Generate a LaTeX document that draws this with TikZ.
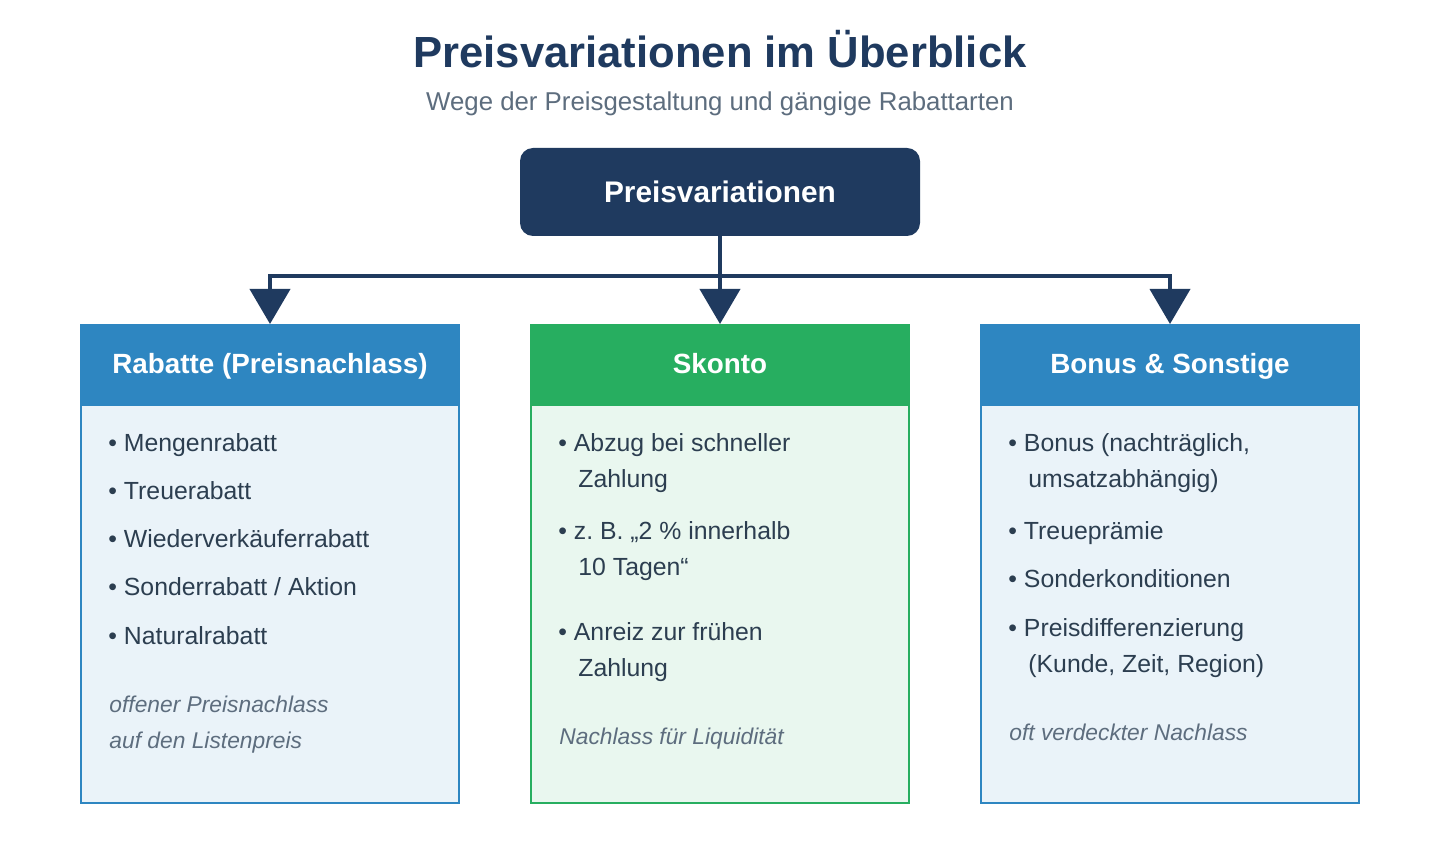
\documentclass[tikz,border=0pt]{standalone}
\usepackage{fontspec}
\setmainfont{Liberation Sans}
\usepackage{xcolor}
\usetikzlibrary{arrows.meta,positioning}
\definecolor{navy}{HTML}{1F3A5F}
\definecolor{slate}{HTML}{5D6D7E}
\definecolor{ink}{HTML}{2C3E50}
\definecolor{ocean}{HTML}{2E86C1}
\definecolor{meadow}{HTML}{27AE60}
\tikzset{
  rootbox/.style={
    rectangle, rounded corners=6.5pt, fill=navy, text=white,
    minimum width=200pt, minimum height=44pt, outer sep=0pt,
    text height=10.7pt, text depth=0pt,
    font=\fontsize{14.9}{18}\selectfont\bfseries
  },
  headbox/.style={
    rectangle, fill=#1, text=white,
    minimum width=190pt, minimum height=40pt,
    inner sep=0pt, outer sep=0pt,
    text height=10pt, text depth=0pt,
    font=\fontsize{13.9}{17}\selectfont\bfseries
  },
  headbox/.default=ocean,
  bodybox/.style={
    rectangle, draw=#1, fill=#1!10, line width=1pt,
    minimum width=189pt, minimum height=199pt,
    inner sep=0pt, outer sep=0pt
  },
  bodybox/.default=ocean,
  itemtext/.style={
    anchor=base west, inner sep=0pt, text=ink,
    font=\fontsize{12.4}{15}\selectfont
  },
  notetext/.style={
    anchor=base west, inner sep=0pt, text=slate,
    font=\fontsize{11.4}{14}\selectfont\itshape
  },
  trunk/.style={line width=2pt, draw=navy, line join=miter},
  dataarrow/.style={
    -{Triangle[length=17.5pt, width=20pt]}, trunk
  },
}

\begin{document}
\begin{tikzpicture}[x=0.5pt, y=-0.5pt]
  \useasboundingbox[fill=white] (0,0) rectangle (1440,860);

  % Title
  \node[anchor=base, text=navy, font=\fontsize{21.8}{26}\selectfont\bfseries]
    (title) at (720,68) {Preisvariationen im Überblick};
  \node[anchor=base, text=slate, font=\fontsize{12.9}{16}\selectfont]
    (subtitle) at (720,111) {Wege der Preisgestaltung und gängige Rabattarten};

  % Root and columns
  \node[rootbox] (root) at (720,192) {Preisvariationen};
  \node[headbox=meadow, below=44pt of root] (skHead) {Skonto};
  \node[headbox, left=35pt of skHead] (rabHead) {Rabatte (Preisnachlass)};
  \node[headbox, right=35pt of skHead] (bonHead) {Bonus \& Sonstige};

  \node[bodybox, below=0.5pt of rabHead] (rabBody) {};
  \node[bodybox=meadow, below=0.5pt of skHead] (skBody) {};
  \node[bodybox, below=0.5pt of bonHead] (bonBody) {};

  % Connectors
  \coordinate (split) at (720,276);
  \draw[trunk] (root) -- (split);
  \draw[dataarrow] (split) -| (rabHead.north);
  \draw[dataarrow] (split) -- (skHead.north);
  \draw[dataarrow] (split) -| (bonHead.north);

  % Rabatte
  \foreach \dx/\y/\txt [count=\i] in {28/452/{• Mengenrabatt},
      28/500/{• Treuerabatt}, 28/548/{• Wiederverkäuferrabatt},
      28/596/{• Sonderrabatt / Aktion}, 28/644/{• Naturalrabatt}}
    \node[itemtext] (rab\i) at (80+\dx,\y) {\txt};
  \node[notetext] (rabNote1) at (109,712) {offener Preisnachlass};
  \node[notetext] (rabNote2) at (109,748) {auf den Listenpreis};

  % Skonto
  \foreach \dx/\y/\txt [count=\i] in {28/452/{• Abzug bei schneller},
      48/488/{Zahlung}, 28/540/{• z.\ B. „2 \% innerhalb},
      48/576/{10 Tagen“}, 28/640/{• Anreiz zur frühen}, 48/676/{Zahlung}}
    \node[itemtext] (sk\i) at (530+\dx,\y) {\txt};
  \node[notetext] (skNote) at (559,744) {Nachlass für Liquidität};

  % Bonus
  \foreach \dx/\y/\txt [count=\i] in {28/452/{• Bonus (nachträglich,},
      48/488/{umsatzabhängig)}, 28/540/{• Treueprämie},
      28/588/{• Sonderkonditionen}, 28/636/{• Preisdifferenzierung},
      48/672/{(Kunde, Zeit, Region)}}
    \node[itemtext] (bon\i) at (980+\dx,\y) {\txt};
  \node[notetext] (bonNote) at (1009,740) {oft verdeckter Nachlass};
\end{tikzpicture}
\end{document}
